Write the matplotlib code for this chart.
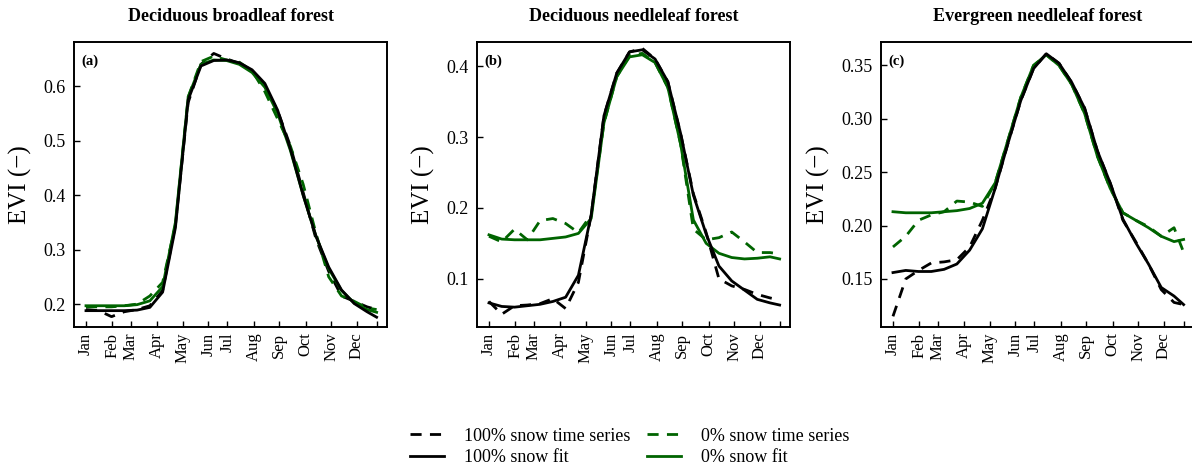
import matplotlib
matplotlib.use("Agg")
import matplotlib.pyplot as plt

plt.rcParams['font.family'] = ['Liberation Serif', 'DejaVu Serif']

# day of year of the (16-day) samples
doy = [1, 17, 33, 49, 65, 81, 97, 113, 129, 145, 161, 177, 193, 209, 225,
       241, 257, 273, 289, 305, 321, 337, 353, 365]

month_pos = [1, 34, 57, 90, 122, 154, 178, 211, 243, 276, 308, 340, 365]
month_lab = ['Jan', 'Feb', 'Mar', 'Apr', 'May', 'Jun', 'Jul', 'Aug', 'Sep',
             'Oct', 'Nov', 'Dec', '']

titles = ['Deciduous broadleaf forest', 'Deciduous needleleaf forest',
          'Evergreen needleleaf forest']
panel_tags = ['(a)', '(b)', '(c)']

# (a) deciduous broadleaf
a_ts100 = [0.19, 0.188, 0.177, 0.186, 0.19, 0.197, 0.225, 0.345, 0.57, 0.64, 0.66, 0.65,
           0.642, 0.628, 0.6, 0.555, 0.49, 0.405, 0.32, 0.26, 0.215, 0.205, 0.195, 0.19]
a_fit100 = [0.188, 0.188, 0.188, 0.188, 0.189, 0.194, 0.222, 0.34, 0.575, 0.637, 0.647, 0.648,
            0.643, 0.630, 0.605, 0.556, 0.485, 0.40, 0.325, 0.268, 0.226, 0.201, 0.186, 0.176]
a_ts0 = [0.195, 0.195, 0.195, 0.197, 0.2, 0.215, 0.24, 0.345, 0.58, 0.645, 0.655, 0.648,
         0.644, 0.628, 0.59, 0.54, 0.49, 0.42, 0.33, 0.25, 0.215, 0.205, 0.193, 0.19]
a_fit0 = [0.197, 0.197, 0.197, 0.197, 0.199, 0.206, 0.232, 0.35, 0.58, 0.64, 0.648, 0.647,
          0.64, 0.625, 0.598, 0.55, 0.482, 0.40, 0.325, 0.265, 0.225, 0.202, 0.19, 0.185]

# (b) deciduous needleleaf
b_ts100 = [0.068, 0.05, 0.062, 0.063, 0.065, 0.072, 0.058, 0.095, 0.19, 0.33, 0.39, 0.42,
           0.425, 0.41, 0.378, 0.305, 0.22, 0.165, 0.1, 0.09, 0.085, 0.078, 0.073, 0.07]
b_fit100 = [0.066, 0.061, 0.060, 0.062, 0.064, 0.068, 0.074, 0.105, 0.19, 0.33, 0.39, 0.42,
            0.423, 0.41, 0.378, 0.305, 0.218, 0.163, 0.118, 0.097, 0.084, 0.071, 0.066, 0.063]
b_ts0 = [0.16, 0.152, 0.17, 0.155, 0.182, 0.185, 0.178, 0.165, 0.19, 0.32, 0.385, 0.415,
         0.418, 0.405, 0.37, 0.29, 0.17, 0.155, 0.158, 0.166, 0.152, 0.137, 0.137, 0.135]
b_fit0 = [0.162, 0.156, 0.155, 0.155, 0.155, 0.157, 0.159, 0.164, 0.185, 0.32, 0.385, 0.413,
          0.416, 0.405, 0.37, 0.29, 0.183, 0.15, 0.136, 0.13, 0.128, 0.129, 0.131, 0.128]

# (c) evergreen needleleaf
c_ts100 = [0.115, 0.15, 0.158, 0.165, 0.166, 0.168, 0.18, 0.205, 0.235, 0.277, 0.317, 0.347,
           0.361, 0.352, 0.334, 0.31, 0.27, 0.24, 0.205, 0.185, 0.164, 0.14, 0.128, 0.126]
c_fit100 = [0.156, 0.158, 0.157, 0.157, 0.159, 0.164, 0.177, 0.197, 0.235, 0.277, 0.317, 0.347,
            0.361, 0.352, 0.334, 0.31, 0.27, 0.24, 0.206, 0.184, 0.164, 0.142, 0.134, 0.126]
c_ts0 = [0.18, 0.19, 0.205, 0.21, 0.213, 0.223, 0.222, 0.218, 0.24, 0.28, 0.32, 0.35,
         0.36, 0.35, 0.332, 0.305, 0.265, 0.235, 0.212, 0.205, 0.199, 0.19, 0.198, 0.175]
c_fit0 = [0.213, 0.212, 0.212, 0.212, 0.213, 0.214, 0.216, 0.221, 0.24, 0.28, 0.32, 0.35,
          0.36, 0.35, 0.332, 0.305, 0.265, 0.235, 0.212, 0.205, 0.198, 0.19, 0.185, 0.187]

series = [(a_ts100, a_fit100, a_ts0, a_fit0),
          (b_ts100, b_fit100, b_ts0, b_fit0),
          (c_ts100, c_fit100, c_ts0, c_fit0)]
ylims = [(0.158, 0.681), (0.032, 0.434), (0.105, 0.372)]
yticks = [[0.2, 0.3, 0.4, 0.5, 0.6], [0.1, 0.2, 0.3, 0.4],
          [0.15, 0.20, 0.25, 0.30, 0.35]]
yfmt = ['{:.1f}', '{:.1f}', '{:.2f}']

green = '#006400'
lw = 2.0
dash = (0, (4, 3))

fig = plt.figure(figsize=(11.92, 4.68), dpi=100)
lefts = [74, 477, 881]

for i in range(3):
    ax = fig.add_axes([lefts[i] / 1192, 1 - 327 / 468, 313 / 1192, 285 / 468])
    ts100, fit100, ts0, fit0 = series[i]
    l1, = ax.plot(doy, ts100, color='black', lw=lw, linestyle=dash)
    l3, = ax.plot(doy, ts0, color=green, lw=lw, linestyle=dash)
    l4, = ax.plot(doy, fit0, color=green, lw=lw)
    l2, = ax.plot(doy, fit100, color='black', lw=lw)
    ax.set_xlim(-14, 378)
    ax.set_ylim(*ylims[i])
    ax.set_xticks(month_pos)
    ax.set_xticklabels(month_lab, rotation=90, fontsize=12)
    ax.set_yticks(yticks[i])
    ax.set_yticklabels([yfmt[i].format(v) for v in yticks[i]], fontsize=13)
    ax.tick_params(direction='in', length=4, width=1, pad=4)
    ax.tick_params(axis='y', pad=6)
    for s in ax.spines.values():
        s.set_linewidth(1.4)
    ax.set_ylabel('EVI (\u2212)', fontsize=18, labelpad=8)
    ax.set_title(titles[i], fontsize=13, fontweight='bold', pad=15)
    ax.text(0.025, 0.955, panel_tags[i], transform=ax.transAxes, fontsize=10.5,
            fontweight='bold', va='top', ha='left')

fig.legend([l1, l2, l3, l4],
           ['100% snow time series', '100% snow fit',
            '0% snow time series', '0% snow fit'],
           loc='center', bbox_to_anchor=(0.528, 0.045), ncol=2, frameon=False,
           fontsize=13, handlelength=1.9, handletextpad=1.1, columnspacing=0.9,
           labelspacing=0.25)

fig.savefig('out.png', dpi=100)
